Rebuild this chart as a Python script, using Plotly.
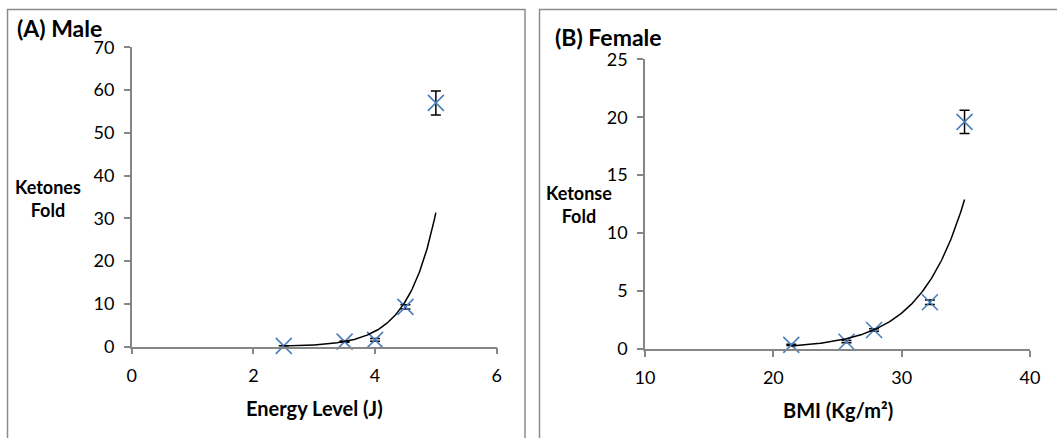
import numpy as np
import plotly.graph_objects as go

# ---- data ----
male_energy = [2.5, 3.5, 4.0, 4.5, 5.0]
male_ketones = [0.2, 1.2, 1.6, 9.3, 57.0]
male_err = [0.05, 0.15, 0.3, 0.5, 2.8]

female_bmi = [21.4, 25.7, 27.85, 32.2, 34.9]
female_ketones = [0.35, 0.63, 1.64, 4.03, 19.6]
female_err = [0.05, 0.1, 0.1, 0.2, 1.0]

male_xticks = [0, 2, 4, 6]
male_yticks = [0, 10, 20, 30, 40, 50, 60, 70]
female_xticks = [10, 20, 30, 40]
female_yticks = [0, 5, 10, 15, 20, 25]

W, H = 1057, 438
FONT = "Lato"
BLUE = "#4A7EBB"
GRAY = "#868686"


def px_x(p):
    return p / W


def px_y(p):
    return 1 - p / H


def exp_fit(x, y):
    x = np.asarray(x, float)
    b, lna = np.polyfit(x, np.log(np.asarray(y, float)), 1)
    xs = np.linspace(x.min(), x.max(), 200)
    return xs, np.exp(lna + b * xs)


fig = go.Figure()

# Male panel
fig.add_trace(go.Scatter(
    x=male_energy, y=male_ketones, mode="markers", xaxis="x", yaxis="y",
    marker=dict(symbol="x-thin", size=16, line=dict(color=BLUE, width=1.6)),
    error_y=dict(type="data", array=male_err, color="black", thickness=1.5, width=5),
    cliponaxis=False, showlegend=False))
tx, ty = exp_fit(male_energy, male_ketones)
fig.add_trace(go.Scatter(x=tx, y=ty, mode="lines", xaxis="x", yaxis="y",
                         line=dict(color="black", width=1.5), showlegend=False,
                         cliponaxis=False))

# Female panel
fig.add_trace(go.Scatter(
    x=female_bmi, y=female_ketones, mode="markers", xaxis="x2", yaxis="y2",
    marker=dict(symbol="x-thin", size=16, line=dict(color=BLUE, width=1.6)),
    error_y=dict(type="data", array=female_err, color="black", thickness=1.5, width=5),
    cliponaxis=False, showlegend=False))
tx2, ty2 = exp_fit(female_bmi, female_ketones)
fig.add_trace(go.Scatter(x=tx2, y=ty2, mode="lines", xaxis="x2", yaxis="y2",
                         line=dict(color="black", width=1.5), showlegend=False,
                         cliponaxis=False))

axis_common = dict(showline=True, linecolor=GRAY, linewidth=1.5, showgrid=False,
                   zeroline=False, ticks="outside", ticklen=6, tickcolor=GRAY,
                   tickwidth=1.5, tickfont=dict(family=FONT, size=18, color="black"),
                   ticklabelstandoff=6, automargin=False)

fig.update_layout(
    width=W, height=H, margin=dict(l=0, r=0, t=0, b=0, autoexpand=False),
    paper_bgcolor="white", plot_bgcolor="white",
    xaxis=dict(domain=[px_x(131.7), px_x(496.7)], range=[0, 6], tickvals=male_xticks,
               anchor="y", **axis_common),
    yaxis=dict(domain=[px_y(346.7), px_y(47.3)], range=[0, 70], tickvals=male_yticks,
               anchor="x", **axis_common),
    xaxis2=dict(domain=[px_x(645), px_x(1030)], range=[10, 40], tickvals=female_xticks,
                anchor="y2", **axis_common),
    yaxis2=dict(domain=[px_y(349), px_y(59.3)], range=[0, 25], tickvals=female_yticks,
                anchor="x2", **axis_common),
)

shapes = [
    dict(type="rect", xref="paper", yref="paper", x0=px_x(7.5), x1=px_x(525),
         y0=-0.2, y1=px_y(9.5), line=dict(color="#8C8C8C", width=1.5)),
    dict(type="rect", xref="paper", yref="paper", x0=px_x(539.5), x1=1.2,
         y0=-0.2, y1=px_y(9.5), line=dict(color="#8C8C8C", width=1.5)),
]
fig.update_layout(shapes=shapes)

ann = []


def add_text(text, x, y, size, xanchor="center", bold=True):
    ann.append(dict(text=f"<b>{text}</b>" if bold else text, x=px_x(x), y=px_y(y),
                    xref="paper", yref="paper", showarrow=False, xanchor=xanchor,
                    yanchor="middle", font=dict(family=FONT, size=size, color="black"),
                    align="center"))


add_text("(A) Male", 15, 28, 23, xanchor="left")
add_text("(B) Female", 553, 37, 23, xanchor="left")
add_text("Ketones<br>Fold", 48, 198, 18)
add_text("Ketonse<br>Fold", 579, 205, 18)
add_text("Energy Level (J)", 314, 408, 20)
add_text("BMI (Kg/m²)", 838, 410, 20)
fig.update_layout(annotations=ann)

fig.write_html("out.html")
